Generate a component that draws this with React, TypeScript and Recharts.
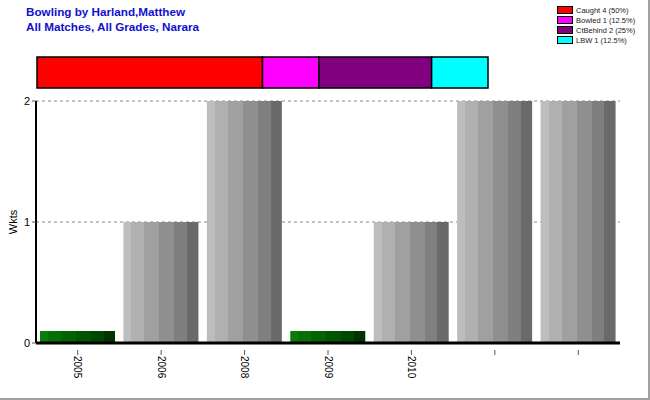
import { BarChart, Bar, XAxis, YAxis, CartesianGrid, Cell } from "recharts";

const SEASONS = ["2005", "2006", "2008", "2009", "2010", "", ""];
const WICKETS = [0, 1, 2, 0, 1, 2, 2];
// zero seasons are drawn as a short green stub
const STUB = 0.1;
const Y_TICKS = [0, 1, 2];

const DISMISSALS = ["Caught", "Bowled", "CtBehind", "LBW"];
const DISMISSAL_COUNTS = [4, 1, 2, 1];
const DISMISSAL_PCT = ["50%", "12.5%", "25%", "12.5%"];
const DISMISSAL_COLORS = ["#ff0000", "#ff00ff", "#800080", "#00ffff"];

const GREY_STOPS = [
  [0, "#bdbdbd"],
  [0.107, "#b0b0b0"],
  [0.28, "#a0a0a0"],
  [0.48, "#8f8f8f"],
  [0.68, "#7f7f7f"],
  [0.85, "#6a6a6a"],
  [1, "#6a6a6a"],
] as const;

const GREEN_STOPS = [
  [0, "#0b7b0b"],
  [0.107, "#067006"],
  [0.28, "#026302"],
  [0.48, "#015501"],
  [0.68, "#004600"],
  [0.85, "#003300"],
  [1, "#003300"],
] as const;

const FONT = "Arial, 'Liberation Sans', sans-serif";

const data = SEASONS.map((s, i) => ({
  key: String(i),
  season: s,
  wkts: WICKETS[i],
  plot: WICKETS[i] === 0 ? STUB : WICKETS[i],
}));

const dismissalRow = [
  DISMISSALS.reduce((acc, d, i) => ({ ...acc, [d]: DISMISSAL_COUNTS[i] }), { name: "all" } as Record<string, any>),
];

function steppedStops(stops: readonly (readonly [number, string])[]) {
  const out: JSX.Element[] = [];
  for (let i = 0; i < stops.length - 1; i++) {
    out.push(<stop key={`a${i}`} offset={stops[i][0]} stopColor={stops[i][1]} />);
    out.push(<stop key={`b${i}`} offset={stops[i + 1][0]} stopColor={stops[i][1]} />);
  }
  return out;
}

function SeasonTick(props: any) {
  const { x, y, payload } = props;
  const label = SEASONS[payload.index] ?? "";
  return (
    <g>
      <line x1={x} y1={y - 1} x2={x} y2={y + 4} stroke="#555" />
      <text
        x={0}
        y={0}
        transform={`translate(${x}, ${y + 5}) rotate(90)`}
        textAnchor="start"
        dominantBaseline="central"
        fontSize={10}
        fontFamily={FONT}
        fill="#000"
      >
        {label}
      </text>
    </g>
  );
}

export default function App() {
  return (
    <div
      style={{
        position: "absolute",
        left: 0,
        top: 0,
        width: 650,
        height: 400,
        background: "#fff",
        boxSizing: "border-box",
        borderRight: "2px solid #a0a0a0",
        borderBottom: "2px solid #a0a0a0",
        fontFamily: FONT,
        overflow: "hidden",
      }}
    >
      <div
        style={{
          position: "absolute",
          left: 26,
          top: 4,
          color: "#1010d0",
          fontWeight: "bold",
          fontSize: 11.7,
          lineHeight: "15px",
        }}
      >
        <div>Bowling by Harland,Matthew</div>
        <div>All Matches, All Grades, Narara</div>
      </div>

      <div style={{ position: "absolute", left: 557, top: 5 }}>
        {DISMISSALS.map((d, i) => (
          <div key={d} style={{ display: "flex", alignItems: "center", height: 10 }}>
            <div
              style={{
                width: 14,
                height: 6,
                background: DISMISSAL_COLORS[i],
                border: "1px solid #000",
                marginRight: 3,
              }}
            />
            <span style={{ fontSize: 7.5, color: "#222", whiteSpace: "nowrap" }}>
              {`${d} ${DISMISSAL_COUNTS[i]} (${DISMISSAL_PCT[i]})`}
            </span>
          </div>
        ))}
      </div>

      <div style={{ position: "absolute", left: 0, top: 0 }}>
        <BarChart
          width={648}
          height={398}
          data={data}
          margin={{ top: 101, right: 28, bottom: 0, left: 0 }}
          barCategoryGap={4}
        >
          <defs>
            <linearGradient id="greyStripes" x1="0" y1="0" x2="1" y2="0">
              {steppedStops(GREY_STOPS)}
            </linearGradient>
            <linearGradient id="greenStripes" x1="0" y1="0" x2="1" y2="0">
              {steppedStops(GREEN_STOPS)}
            </linearGradient>
          </defs>
          <CartesianGrid vertical={false} stroke="#888" strokeDasharray="3 3" />
          <XAxis
            dataKey="key"
            height={55}
            axisLine={{ stroke: "#000", strokeWidth: 3 }}
            tickLine={false}
            tick={<SeasonTick />}
            interval={0}
          />
          <YAxis
            width={36}
            domain={[0, 2]}
            ticks={Y_TICKS}
            interval={0}
            axisLine={{ stroke: "#000", strokeWidth: 2 }}
            tickLine={{ stroke: "#555" }}
            tickSize={4}
            tick={{ fontSize: 11, fill: "#000", fontFamily: FONT }}
          />
          <Bar dataKey="plot" barSize={75} isAnimationActive={false}>
            {data.map((d) => (
              <Cell key={d.key} fill={d.wkts === 0 ? "url(#greenStripes)" : "url(#greyStripes)"} />
            ))}
          </Bar>
        </BarChart>
      </div>

      <div
        style={{
          position: "absolute",
          left: 13,
          top: 222,
          transform: "translate(-50%, -50%) rotate(-90deg)",
          fontSize: 11,
          color: "#000",
          whiteSpace: "nowrap",
        }}
      >
        Wkts
      </div>

      <div style={{ position: "absolute", left: 0, top: 50 }}>
        <BarChart
          width={500}
          height={45}
          data={dismissalRow}
          layout="vertical"
          margin={{ top: 7, right: 12, bottom: 7, left: 37 }}
          barCategoryGap={0}
        >
          <XAxis type="number" domain={[0, 8]} hide />
          <YAxis type="category" dataKey="name" hide />
          {DISMISSALS.map((d, i) => (
            <Bar
              key={d}
              dataKey={d}
              stackId="s"
              fill={DISMISSAL_COLORS[i]}
              stroke="#000"
              strokeWidth={1.5}
              isAnimationActive={false}
            />
          ))}
        </BarChart>
      </div>
    </div>
  );
}
